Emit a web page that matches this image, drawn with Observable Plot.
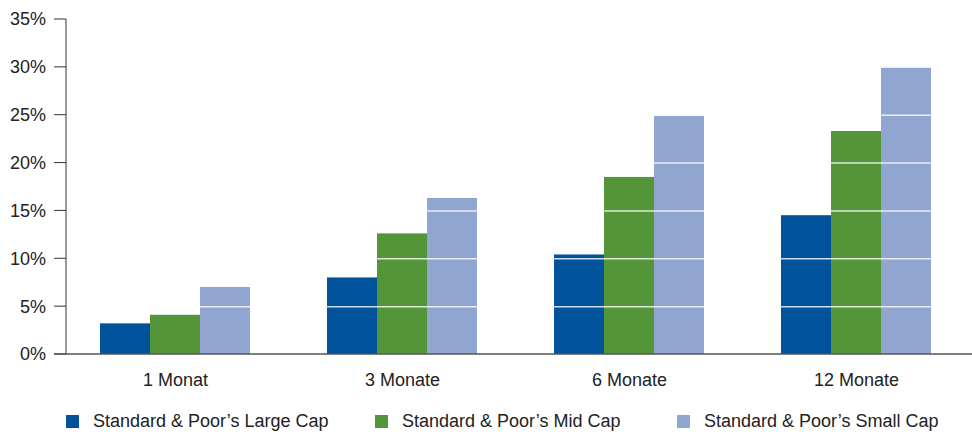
<!DOCTYPE html>
<html>
<head>
<meta charset="utf-8">
<script src="https://cdn.jsdelivr.net/npm/d3@7"></script>
<script src="https://cdn.jsdelivr.net/npm/@observablehq/plot@0.6"></script>
<style>
  html, body { margin: 0; padding: 0; background: #fff; }
  body { width: 972px; height: 432px; overflow: hidden; font-family: "Liberation Sans", Arial, sans-serif; }
  #chart svg { display: block; }
  #legend { position: relative; height: 40px; font-size: 18px; color: #222; }
  .item { position: absolute; top: 19px; display: flex; align-items: center; white-space: nowrap; line-height: 21px; }
  .sw { width: 13px; height: 13px; margin-right: 14px; }
</style>
</head>
<body>
<div id="chart"></div>
<div id="legend"></div>
<script>
const groups = ["1 Monat", "3 Monate", "6 Monate", "12 Monate"];
const series = ["Standard & Poor’s Large Cap", "Standard & Poor’s Mid Cap", "Standard & Poor’s Small Cap"];
const largeCap = [3.2, 8.0, 10.4, 14.5];
const midCap = [4.1, 12.6, 18.5, 23.3];
const smallCap = [7.0, 16.3, 24.9, 30.0];
const yTicks = [0, 5, 10, 15, 20, 25, 30, 35];
const colors = ["#00529b", "#55953a", "#90a5cf"];

const seriesValues = [largeCap, midCap, smallCap];
const data = [];
groups.forEach((g, i) => {
  series.forEach((s, j) => data.push({group: g, series: s, value: seriesValues[j][i]}));
});

const chart = Plot.plot({
  width: 972,
  height: 392,
  marginTop: 19,
  marginBottom: 38,
  marginLeft: 66,
  marginRight: 6,
  style: {fontFamily: "'Liberation Sans', Arial, sans-serif", fontSize: "18px", color: "#222", background: "#fff"},
  fx: {domain: groups, paddingInner: 0.33, paddingOuter: 0.14, label: null, axis: "bottom", tickSize: 0, tickPadding: 19},
  x: {domain: series, padding: 0, axis: null},
  y: {domain: [0, 35], ticks: yTicks, tickFormat: d => d + "%", label: null, axis: null},
  color: {domain: series, range: colors},
  marks: [
    Plot.barY(data, {fx: "group", x: "series", y: "value", fill: "series", inset: 0}),
    Plot.gridY(yTicks.filter(d => d > 0), {stroke: "#fff", strokeOpacity: 0.8, strokeWidth: 1.5})
  ]
});
document.getElementById("chart").appendChild(chart);

// y axis and baseline drawn across the whole plot using the library's y scale
const y = chart.scale("y");
const svg = d3.select(chart);
const axisG = svg.append("g").attr("fill", "none");
const x0 = 66;
axisG.append("line")
  .attr("x1", x0).attr("x2", x0)
  .attr("y1", y.apply(35)).attr("y2", y.apply(0))
  .attr("stroke", "#333").attr("stroke-width", 1);
yTicks.forEach(t => {
  axisG.append("line")
    .attr("x1", x0 - 12).attr("x2", x0)
    .attr("y1", y.apply(t)).attr("y2", y.apply(t))
    .attr("stroke", "#333").attr("stroke-width", 1);
  svg.append("text")
    .attr("x", x0 - 20).attr("y", y.apply(t))
    .attr("text-anchor", "end").attr("dy", "0.36em")
    .attr("fill", "#222").attr("font-size", 18)
    .text(t + "%");
});
axisG.append("line")
  .attr("x1", x0 - 12).attr("x2", 972)
  .attr("y1", y.apply(0)).attr("y2", y.apply(0))
  .attr("stroke", "#555").attr("stroke-width", 1.5);

const legend = document.getElementById("legend");
const lx = [66, 375, 677];
series.forEach((s, i) => {
  const item = document.createElement("div");
  item.className = "item";
  item.style.left = lx[i] + "px";
  item.innerHTML = `<div class="sw" style="background:${colors[i]}"></div><span>${s}</span>`;
  legend.appendChild(item);
});
</script>
</body>
</html>
